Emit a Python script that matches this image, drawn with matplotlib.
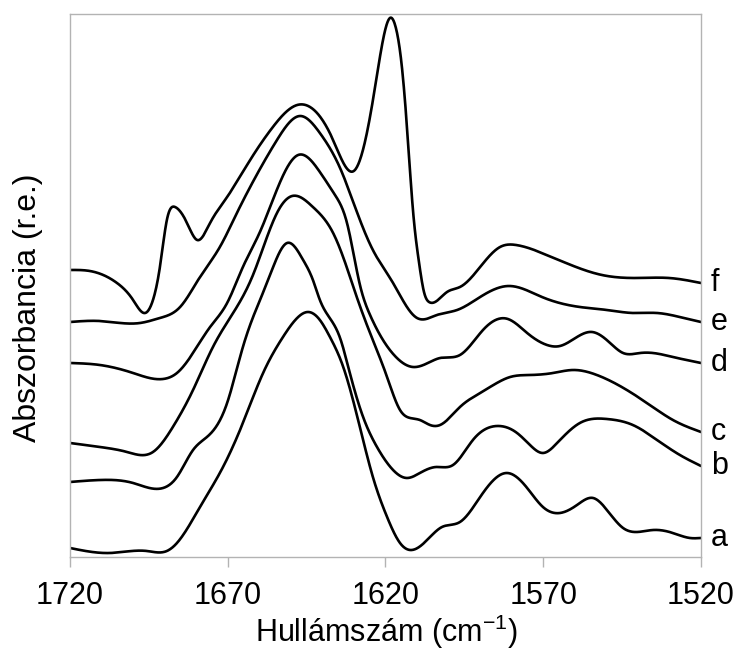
import numpy as np
import matplotlib
matplotlib.use("Agg")
import matplotlib.pyplot as plt

plt.rcParams['font.family'] = ['Liberation Sans', 'DejaVu Sans']
plt.rcParams['mathtext.fontset'] = 'custom'
plt.rcParams['mathtext.rm'] = 'Liberation Sans'
plt.rcParams['mathtext.it'] = 'Liberation Sans:italic'

# ---- data (wavenumber in cm-1, absorbance in arbitrary offset units) ----
wn_a = [1720.0, 1707.3, 1695.6, 1689.3, 1686.1, 1678.8, 1671.5, 1665.2, 1658.8, 1652.5,
        1648.0, 1644.6, 1640.8, 1637.6, 1633.5, 1630.3, 1627.1, 1624.0, 1619.5, 1615.4,
        1612.2, 1606.8, 1602.1, 1596.4, 1590.0, 1581.5, 1575.1, 1570.1, 1564.7, 1559.3,
        1554.2, 1549.8, 1544.7, 1540.3, 1535.2, 1528.9, 1523.5, 1520.0]
abs_a = [0.09, 0.04, 0.06, 0.06, 0.14, 0.50, 0.90, 1.34, 1.84, 2.20,
         2.39, 2.45, 2.37, 2.20, 1.91, 1.57, 1.17, 0.80, 0.40, 0.14,
         0.07, 0.17, 0.30, 0.35, 0.60, 0.84, 0.69, 0.50, 0.44, 0.52,
         0.59, 0.47, 0.29, 0.25, 0.27, 0.24, 0.19, 0.19]

wn_b = [1720.0, 1710.5, 1700.0, 1690.5, 1686.1, 1681.0, 1676.6, 1670.2, 1665.2, 1660.7,
        1657.2, 1651.2, 1646.1, 1643.0, 1640.8, 1634.4, 1631.3, 1627.1, 1622.7, 1617.6,
        1613.2, 1609.1, 1604.0, 1598.6, 1592.3, 1584.7, 1578.3, 1574.2, 1570.1, 1565.6,
        1558.4, 1549.8, 1541.6, 1533.9, 1526.7, 1520.0]
abs_b = [0.75, 0.77, 0.74, 0.69, 0.80, 1.07, 1.20, 1.54, 2.10, 2.50,
         2.77, 3.14, 2.97, 2.77, 2.57, 2.19, 1.84, 1.40, 1.10, 0.87,
         0.79, 0.84, 0.90, 0.92, 1.17, 1.31, 1.24, 1.12, 1.04, 1.14,
         1.34, 1.38, 1.32, 1.17, 1.02, 0.91]

wn_c = [1720.0, 1710.5, 1701.9, 1693.7, 1687.4, 1681.0, 1674.7, 1668.3, 1662.0, 1654.4,
        1649.6, 1643.0, 1636.6, 1632.2, 1629.0, 1624.9, 1619.5, 1615.4, 1612.2, 1609.1,
        1605.9, 1602.7, 1596.4, 1590.0, 1584.7, 1580.5, 1574.2, 1566.9, 1560.6, 1553.0,
        1543.5, 1536.2, 1528.9, 1520.0]
abs_c = [1.14, 1.10, 1.05, 1.05, 1.30, 1.67, 2.10, 2.44, 2.82, 3.44,
         3.61, 3.50, 3.24, 2.89, 2.59, 2.24, 1.80, 1.47, 1.39, 1.37,
         1.32, 1.32, 1.50, 1.64, 1.74, 1.80, 1.82, 1.84, 1.87, 1.82,
         1.67, 1.52, 1.37, 1.25]

wn_d = [1720.0, 1710.5, 1700.0, 1690.5, 1686.1, 1681.0, 1675.6, 1670.2, 1665.2, 1659.8,
        1653.4, 1647.7, 1640.8, 1636.0, 1632.2, 1628.1, 1624.9, 1620.8, 1617.0, 1611.3,
        1605.9, 1602.7, 1596.4, 1589.1, 1581.2, 1575.1, 1568.8, 1564.7, 1559.3, 1554.5,
        1548.8, 1544.7, 1539.3, 1535.2, 1528.9, 1520.0]
abs_d = [1.94, 1.92, 1.84, 1.78, 1.84, 2.04, 2.30, 2.54, 2.90, 3.25,
         3.75, 4.02, 3.85, 3.62, 3.34, 2.72, 2.42, 2.17, 2.01, 1.90,
         1.95, 1.99, 2.02, 2.27, 2.38, 2.24, 2.12, 2.11, 2.20, 2.25,
         2.14, 2.04, 2.04, 2.04, 2.00, 1.94]

wn_e = [1720.0, 1710.5, 1697.8, 1691.5, 1685.1, 1678.8, 1672.5, 1667.1, 1662.9, 1654.4,
        1647.1, 1640.8, 1634.4, 1628.1, 1624.0, 1617.6, 1613.2, 1610.0, 1603.7, 1597.3,
        1590.0, 1580.9, 1570.4, 1558.4, 1549.8, 1541.6, 1533.9, 1526.7, 1520.0]
abs_e = [2.35, 2.36, 2.34, 2.39, 2.50, 2.80, 3.10, 3.44, 3.70, 4.17,
         4.41, 4.24, 3.89, 3.37, 3.07, 2.74, 2.50, 2.39, 2.42, 2.47,
         2.60, 2.71, 2.60, 2.50, 2.47, 2.44, 2.44, 2.40, 2.35]

wn_f = [1720.0, 1713.7, 1705.1, 1700.0, 1696.2, 1693.7, 1691.5, 1689.3, 1686.7, 1682.9,
        1679.7, 1675.6, 1670.2, 1662.9, 1655.7, 1648.0, 1641.7, 1636.6, 1629.7, 1625.9,
        1623.3, 1621.1, 1618.6, 1616.7, 1614.8, 1612.9, 1611.3, 1609.4, 1607.8, 1606.2,
        1600.5, 1596.4, 1590.0, 1583.7, 1578.6, 1570.4, 1559.6, 1551.4, 1540.6, 1530.1,
        1520.0]
abs_f = [2.87, 2.86, 2.74, 2.57, 2.44, 2.57, 2.90, 3.37, 3.50, 3.34,
         3.17, 3.34, 3.60, 3.97, 4.30, 4.52, 4.44, 4.17, 3.87, 4.24,
         4.70, 5.12, 5.39, 5.29, 4.90, 4.17, 3.47, 2.95, 2.65, 2.55,
         2.65, 2.70, 2.90, 3.10, 3.12, 3.04, 2.90, 2.82, 2.79, 2.79,
         2.74]

series = [("a", wn_a, abs_a), ("b", wn_b, abs_b), ("c", wn_c, abs_c),
          ("d", wn_d, abs_d), ("e", wn_e, abs_e), ("f", wn_f, abs_f)]

x_ticks = [1720, 1670, 1620, 1570, 1520]


def natural_spline(x, y, xn):
    """Natural cubic spline through the read points (smoothed line, as in the source)."""
    x = np.asarray(x, float)
    y = np.asarray(y, float)
    n = len(x)
    h = np.diff(x)
    A = np.zeros((n, n))
    r = np.zeros(n)
    A[0, 0] = 1.0
    A[-1, -1] = 1.0
    for i in range(1, n - 1):
        A[i, i - 1] = h[i - 1]
        A[i, i] = 2 * (h[i - 1] + h[i])
        A[i, i + 1] = h[i]
        r[i] = 3 * ((y[i + 1] - y[i]) / h[i] - (y[i] - y[i - 1]) / h[i - 1])
    c = np.linalg.solve(A, r)
    b = (y[1:] - y[:-1]) / h - h * (2 * c[:-1] + c[1:]) / 3
    d = (c[1:] - c[:-1]) / (3 * h)
    idx = np.clip(np.searchsorted(x, xn) - 1, 0, n - 2)
    t = xn - x[idx]
    return y[idx] + b[idx] * t + c[idx] * t**2 + d[idx] * t**3


fig = plt.figure(figsize=(7.38, 6.51), dpi=100)
ax = fig.add_axes([70 / 738, 1 - 557 / 651, 631 / 738, 543 / 651])

for name, wn, ab in series:
    wn_r = np.asarray(wn)[::-1]
    ab_r = np.asarray(ab)[::-1]
    xs = np.linspace(wn_r[0], wn_r[-1], 1500)
    ys = natural_spline(wn_r, ab_r, xs)
    ax.plot(xs, ys, color='black', lw=1.9, solid_capstyle='round')
    ax.annotate(name, xy=(wn[-1], ab[-1]), xytext=(7, 0), textcoords='offset points',
                va='center', ha='left', fontsize=22, annotation_clip=False)

ax.set_xlim(1720, 1520)
ax.set_ylim(0, 5.43)
ax.set_xticks(x_ticks)
ax.set_xticklabels([str(t) for t in x_ticks])
ax.set_yticks([])
ax.tick_params(axis='x', direction='out', length=7, width=1, color='#b3b3b3',
               labelsize=22, pad=10)
for sp in ax.spines.values():
    sp.set_color('#b3b3b3')
    sp.set_linewidth(1.0)

fig.text(28 / 738, 1 - 308 / 651, 'Abszorbancia (r.e.)', rotation=90,
         ha='center', va='center', fontsize=23)
fig.text(386 / 738, 1 - 642 / 651, 'Hullámszám (cm$^{\\mathregular{-1}}$)',
         ha='center', va='baseline', fontsize=22)

fig.savefig('out.png', dpi=100)
